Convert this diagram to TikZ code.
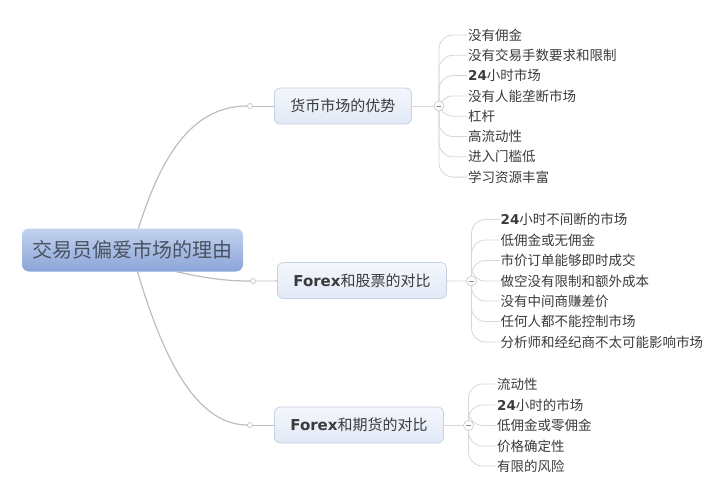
\documentclass[tikz,border=0pt]{standalone}
\usepackage{fontspec}
\usepackage{xcolor}
\setmainfont{Noto Sans CJK SC}
\newfontfamily\latfont{DejaVu Sans}
\definecolor{rootblue}{HTML}{C3D3EE}
\definecolor{rootdeep}{HTML}{8AA5D8}
\definecolor{roottext}{HTML}{4A5262}
\definecolor{paleblue}{HTML}{F4F7FC}
\definecolor{softblue}{HTML}{E1E9F6}
\definecolor{edgeblue}{HTML}{C6D2E4}
\definecolor{stemgray}{HTML}{BDBDBD}
\definecolor{twiggray}{HTML}{D6D6D6}
\definecolor{inkgray}{HTML}{3A3A3A}
\newcommand{\num}[1]{{\latfont\bfseries #1}}

\begin{document}
\begin{tikzpicture}[>=stealth, line cap=round, x=1pt, y=-1pt,
  rootbox/.style={rounded corners=7pt, top color=rootblue, bottom color=rootdeep,
    minimum width=221pt, minimum height=43pt, text=roottext,
    font=\fontsize{20}{24}\selectfont},
  topicbox/.style={rounded corners=6pt, draw=edgeblue, line width=.8pt,
    top color=paleblue, bottom color=softblue, inner xsep=16pt,
    minimum height=36pt, text=inkgray, font=\fontsize{15}{18}\selectfont, anchor=west},
  leaf/.style={anchor=west, inner xsep=1pt, inner ysep=1pt, text=inkgray,
    font=\fontsize{13.5}{16}\selectfont},
  joint/.style={circle, draw=stemgray, fill=white, inner sep=0pt, minimum size=5pt, line width=.6pt},
  fold/.style={circle, draw=stemgray!90, fill=white, inner sep=0pt, minimum size=10pt, line width=.6pt,
    path picture={\draw[stemgray!70!black, line width=.6pt] (path picture bounding box.center) ++(-2pt,0) -- ++(4pt,0);}},
  rootline/.style={stemgray, line width=1.2pt},
  twig/.style={twiggray, line width=.8pt, rounded corners=14pt}]

\useasboundingbox (0,0) rectangle (720,479);

% --- layout helpers ---
\def\Xa{467}    % leaves of first topic
\def\Xb{499.5}  % leaves of second topic
\def\Xc{496}    % leaves of third topic

% --- centre topic ---
\node[rootbox] (root) at (132.5,250) {交易员偏爱市场的理由};

% --- main topics ---
\node[topicbox] (adv) at (274,106) {货币市场的优势};
\node[topicbox] (stock) at (277,280.5) {\num{Forex}和股票的对比};
\node[topicbox] (fut) at (274,425) {\num{Forex}和期货的对比};

\node[joint] (ja) at (250,106) {};
\node[joint] (jb) at (253,281) {};
\node[joint] (jc) at (250,425) {};

\draw[rootline] ([xshift=6pt]root.north) .. controls (160,160) and (190,106) .. (ja);
\draw[rootline] ([xshift=44pt]root.south) .. controls (205,278) and (225,281) .. (jb);
\draw[rootline] ([xshift=5pt]root.south) .. controls (158,340) and (190,425) .. (jc);
\draw[stemgray, line width=.8pt] (ja) -- (adv);
\draw[stemgray, line width=.8pt] (jb) -- (stock);
\draw[stemgray, line width=.8pt] (jc) -- (fut);

% --- a small macro for each leaf: fold, name, x, y, text
\newcommand{\leafitem}[5]{%
  \node[leaf] (#2) at (#3,#4) {#5};
  \draw[twig] (#1) |- (#2.west);
}

% --- leaves of the first topic ---
\coordinate (ca) at (439,106);
\leafitem{ca}{a1}{\Xa}{35}{没有佣金}
\leafitem{ca}{a2}{\Xa}{55.3}{没有交易手数要求和限制}
\leafitem{ca}{a3}{\Xa}{75.6}{\num{24}小时市场}
\leafitem{ca}{a4}{\Xa}{95.9}{没有人能垄断市场}
\leafitem{ca}{a5}{\Xa}{116.2}{杠杆}
\leafitem{ca}{a6}{\Xa}{136.5}{高流动性}
\leafitem{ca}{a7}{\Xa}{156.8}{进入门槛低}
\leafitem{ca}{a8}{\Xa}{177.1}{学习资源丰富}
\node[fold] (fa) at (ca) {};
\draw[twig] (adv) -- (fa);

% --- leaves of the second topic ---
\coordinate (cb) at (471.5,281);
\leafitem{cb}{b1}{\Xb}{219.5}{\num{24}小时不间断的市场}
\leafitem{cb}{b2}{\Xb}{240}{低佣金或无佣金}
\leafitem{cb}{b3}{\Xb}{260.5}{市价订单能够即时成交}
\leafitem{cb}{b4}{\Xb}{281}{做空没有限制和额外成本}
\leafitem{cb}{b5}{\Xb}{301}{没有中间商赚差价}
\leafitem{cb}{b6}{\Xb}{321.5}{任何人都不能控制市场}
\leafitem{cb}{b7}{\Xb}{342}{分析师和经纪商不太可能影响市场}
\node[fold] (fb) at (cb) {};
\draw[twig] (stock) -- (fb);

% --- leaves of the third topic ---
\coordinate (cc) at (468.5,425.5);
\leafitem{cc}{c1}{\Xc}{384}{流动性}
\leafitem{cc}{c2}{\Xc}{405}{\num{24}小时的市场}
\leafitem{cc}{c3}{\Xc}{425.5}{低佣金或零佣金}
\leafitem{cc}{c4}{\Xc}{446}{价格确定性}
\leafitem{cc}{c5}{\Xc}{466}{有限的风险}
\node[fold] (fc) at (cc) {};
\draw[twig] (fut) -- (fc);

\end{tikzpicture}
\end{document}
